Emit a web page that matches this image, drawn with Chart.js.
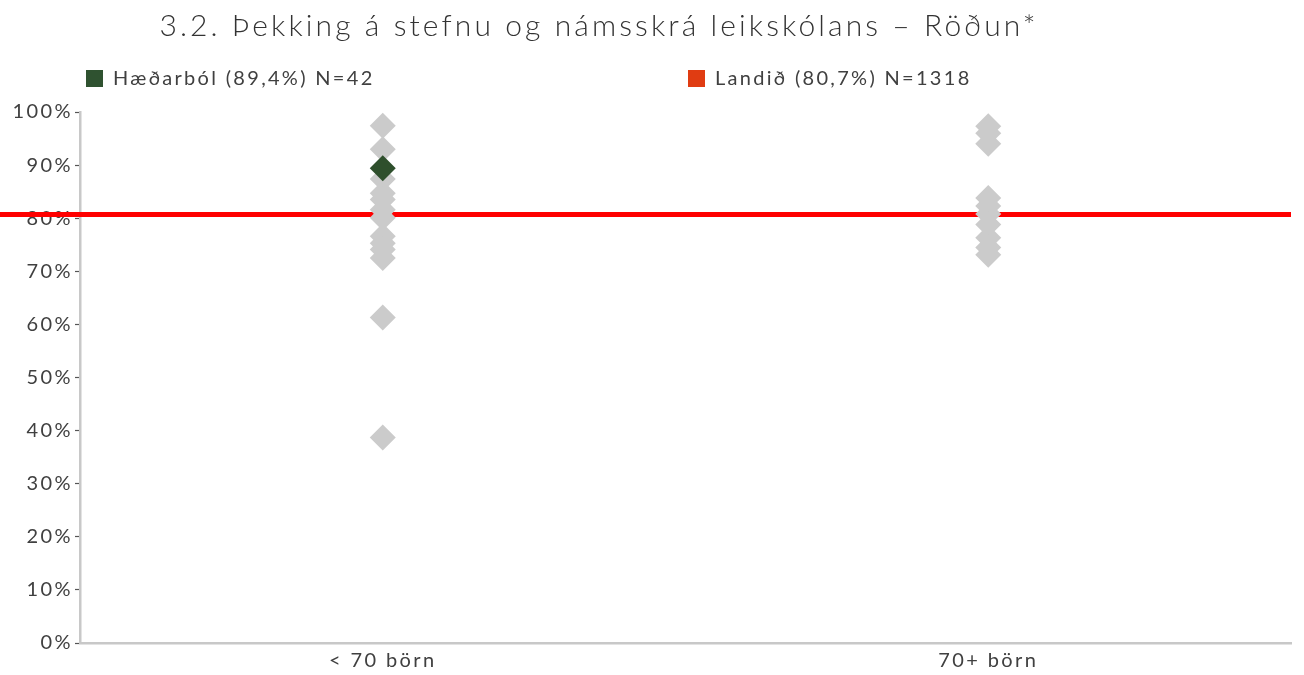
<!DOCTYPE html>
<html lang="is">
<head>
<meta charset="utf-8">
<title>Þekking á stefnu og námsskrá leikskólans – Röðun</title>
<script src="https://cdn.jsdelivr.net/npm/chart.js@4/dist/chart.umd.min.js"></script>
<style>
	html, body { margin: 0; padding: 0; background: #fff; }
	#wrap { position: relative; width: 1304px; height: 675px; font-family: Lato, 'Open Sans', sans-serif; color: #404040; }
	#title { position: absolute; left: 0; width: 1198px; top: 6px; text-align: center; font-size: 30px; font-weight: 300; letter-spacing: 3.1px; color: #333; }
	.legend-item { position: absolute; top: 64px; font-size: 20px; line-height: 26px; letter-spacing: 2.3px; }
	.legend-item span { display: inline-block; width: 17px; height: 17px; margin-right: 10px; vertical-align: -2px; }
	#chartRodun { position: absolute; left: 0; top: 0; }
</style>
</head>
<body>
<div id="wrap">
	<canvas id="chartRodun" width="1304" height="675"></canvas>
	<div id="title">3.2. Þekking á stefnu og námsskrá leikskólans – Röðun*</div>
	<div class="legend-item" style="left:86px"><span style="background:#2f5230"></span>Hæðarból (89,4%) N=42</div>
	<div class="legend-item" style="left:688px"><span style="background:#e03c12"></span>Landið (80,7%) N=1318</div>
</div>
<script>
'use strict'

// school size groups on the x axis
const categories = ['< 70 börn', '70+ börn'];

// every other preschool, share in %
const smallSchools = [97.4, 93.0, 87.4, 84.7, 83.5, 81.6, 80.1, 76.6, 75.3, 74.1, 72.5, 61.3, 38.7];
const largeSchools = [97.3, 96.0, 94.0, 83.8, 82.3, 80.8, 78.8, 76.3, 74.5, 73.1];

// this school and the national average
const schoolName = 'Hæðarból';
const schoolGroup = '< 70 börn';
const schoolValue = 89.4;
const nationalValue = 80.7;

const yTicks = [0, 10, 20, 30, 40, 50, 60, 70, 80, 90, 100];

const colors = {
	gray: '#cbcbcb',
	green: '#2e4f2c',
	red: '#ff0000',
	axis: '#c8c8c8',
	tick: '#555555',
	text: '#404040',
};

const font = { family: "Lato, 'Open Sans', sans-serif", size: 20 };

let points = [];
smallSchools.forEach(v => points.push({ x: categories[0], y: v }));
largeSchools.forEach(v => points.push({ x: categories[1], y: v }));

// wider tracking for axis labels (canvas state is reset on resize, so set it each pass)
const tracking = {
	id: 'tracking',
	beforeLayout(chart){ chart.ctx.letterSpacing = '2.4px' },
	beforeDraw(chart){ chart.ctx.letterSpacing = '2.4px' },
};

// national average line, drawn under the diamonds and across the label gutter
const averageLine = {
	id: 'averageLine',
	beforeDatasetsDraw(chart){
		const ctx = chart.ctx;
		const y = chart.scales.y.getPixelForValue(nationalValue);
		ctx.save();
		ctx.strokeStyle = colors.red;
		ctx.lineWidth = 5;
		ctx.beginPath();
		ctx.moveTo(0, y);
		ctx.lineTo(chart.chartArea.right, y);
		ctx.stroke();
		ctx.restore();
	}
};

new Chart(document.getElementById('chartRodun'), {
	type: 'scatter',
	data: {
		labels: categories,
		datasets: [
			{
				label: schoolName,
				data: [{ x: schoolGroup, y: schoolValue }],
				order: 0,
				pointStyle: 'rectRot',
				pointRadius: 13,
				borderWidth: 0,
				backgroundColor: colors.green,
			},
			{
				label: 'Aðrir leikskólar',
				data: points,
				order: 1,
				pointStyle: 'rectRot',
				pointRadius: 13,
				borderWidth: 0,
				backgroundColor: colors.gray,
			},
		],
	},
	plugins: [tracking, averageLine],
	options: {
		responsive: false,
		animation: false,
		events: [],
		layout: {
			padding: { top: 112, right: 9, left: 0, bottom: 0 },
		},
		plugins: {
			legend: { display: false },
			title: { display: false },
			tooltip: { enabled: false },
		},
		scales: {
			x: {
				type: 'category',
				labels: categories,
				offset: true,
				grid: { display: false, drawTicks: false },
				border: { color: colors.axis, width: 2.5 },
				ticks: { color: colors.text, font: font, padding: 6 },
				afterFit: (s) => { s.height = 32 },
			},
			y: {
				min: 0,
				max: 100,
				afterBuildTicks: (s) => { s.ticks = yTicks.map(v => ({ value: v })) },
				grid: {
					drawOnChartArea: false,
					tickLength: 5,
					tickColor: colors.tick,
					tickWidth: 1.2,
				},
				border: { color: colors.axis, width: 2.5 },
				ticks: {
					color: colors.text,
					font: font,
					padding: 2,
					callback: (v) => v + '%',
				},
				afterFit: (s) => { s.width = 80 },
			},
		},
	},
});
</script>
</body>
</html>
